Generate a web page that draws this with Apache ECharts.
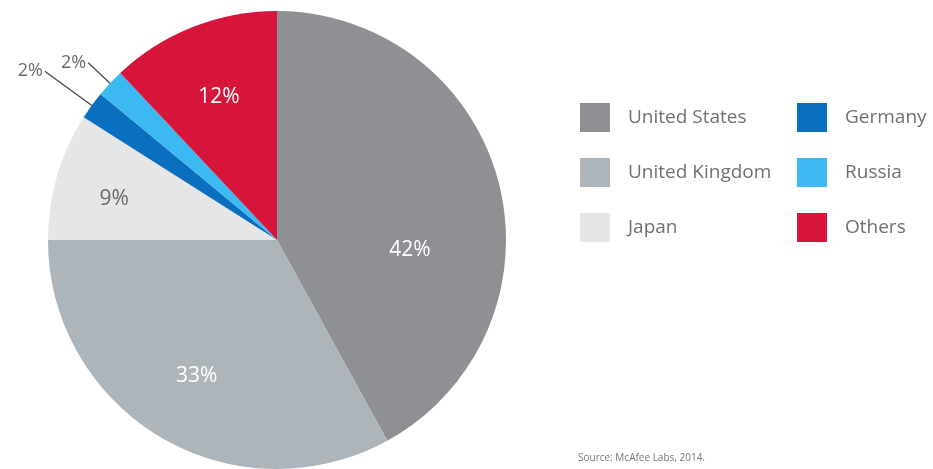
<!DOCTYPE html>
<html><head><meta charset="utf-8">
<script src="https://cdn.jsdelivr.net/npm/echarts@6/dist/echarts.min.js"></script>
<style>html,body{margin:0;padding:0;background:#fff}#c{width:933px;height:469px}</style>
</head><body><div id="c"></div>
<script>
const countries = ['United States','United Kingdom','Japan','Germany','Russia','Others'];
const shares = [42, 33, 9, 2, 2, 12];
const colors = ['#8f9093','#adb5bb','#e5e6e7','#0b6fc0','#3cb9f0','#d7153a'];
const insideLabelColors = ['#ffffff','#ffffff','#6a6a6a',null,null,'#ffffff'];
const legendCol1 = ['United States','United Kingdom','Japan'];
const legendCol2 = ['Germany','Russia','Others'];
const sourceText = 'Source: McAfee Labs, 2014.';

const font = '"Open Sans", "Noto Sans", sans-serif';
const chart = echarts.init(document.getElementById('c'), null, {renderer:'canvas'});

const mainData = countries.map((n,i)=>({ name:n, value:shares[i], itemStyle:{color:colors[i]} }));
const insideData = countries.map((n,i)=>({
  name:n, value:shares[i], itemStyle:{color:'rgba(0,0,0,0)'},
  label: insideLabelColors[i] ? {show:true, color:insideLabelColors[i]} : {show:false}
}));
const calloutData = countries.map((n,i)=>({
  name:n, value:shares[i], itemStyle:{color:'rgba(0,0,0,0)'},
  label: (n==='Germany'||n==='Russia') ? {show:true} : {show:false},
  labelLine: (n==='Germany') ? {show:true, length:82, length2:0} :
             (n==='Russia') ? {show:true, length:54, length2:0} : {show:false}
}));

const legendBase = {
  orient:'vertical', icon:'rect', itemWidth:30, itemHeight:29, itemGap:26, padding:0,
  textStyle:{fontFamily:font, fontSize:19, color:'#707070', padding:[0,0,0,13]},
  selectedMode:false
};

chart.setOption({
  backgroundColor:'#ffffff',
  animation:false,
  color: colors,
  title:{text:sourceText, left:578, top:453, padding:0,
    textStyle:{fontFamily:font, fontSize:10, fontWeight:'normal', color:'#777'}},
  legend:[
    Object.assign({}, legendBase, {left:580, top:103, data:legendCol1}),
    Object.assign({}, legendBase, {left:797, top:103, data:legendCol2})
  ],
  series:[
    {
      type:'pie', center:[277,240], radius:[0,229], startAngle:90, clockwise:true,
      silent:true, data:mainData, label:{show:false}, labelLine:{show:false},
      itemStyle:{borderWidth:0}
    },
    {
      type:'pie', center:[277,240], radius:[130,180], startAngle:90, clockwise:true,
      silent:true, data:insideData, legendHoverLink:false,
      label:{position:'inside', formatter:'{c}%', fontFamily:font, fontSize:21},
      labelLine:{show:false},
      labelLayout:function(p){
        if(p.dataIndex===0) return {dx:-20, dy:49};
        if(p.dataIndex===2) return {dx:-11, dy:3};
        if(p.dataIndex===5) return {dx:0, dy:4};
        return {};
      }
    },
    {
      type:'pie', center:[277,240], radius:[0,205], startAngle:90, clockwise:true,
      silent:true, data:calloutData, legendHoverLink:false, avoidLabelOverlap:false,
      label:{position:'outside', formatter:'{c}%', fontFamily:font, fontSize:18, color:'#6a6a6a', distanceToLabelLine:2},
      labelLine:{lineStyle:{color:'#4a4a4a', width:1.3}}
    }
  ]
});
</script></body></html>
